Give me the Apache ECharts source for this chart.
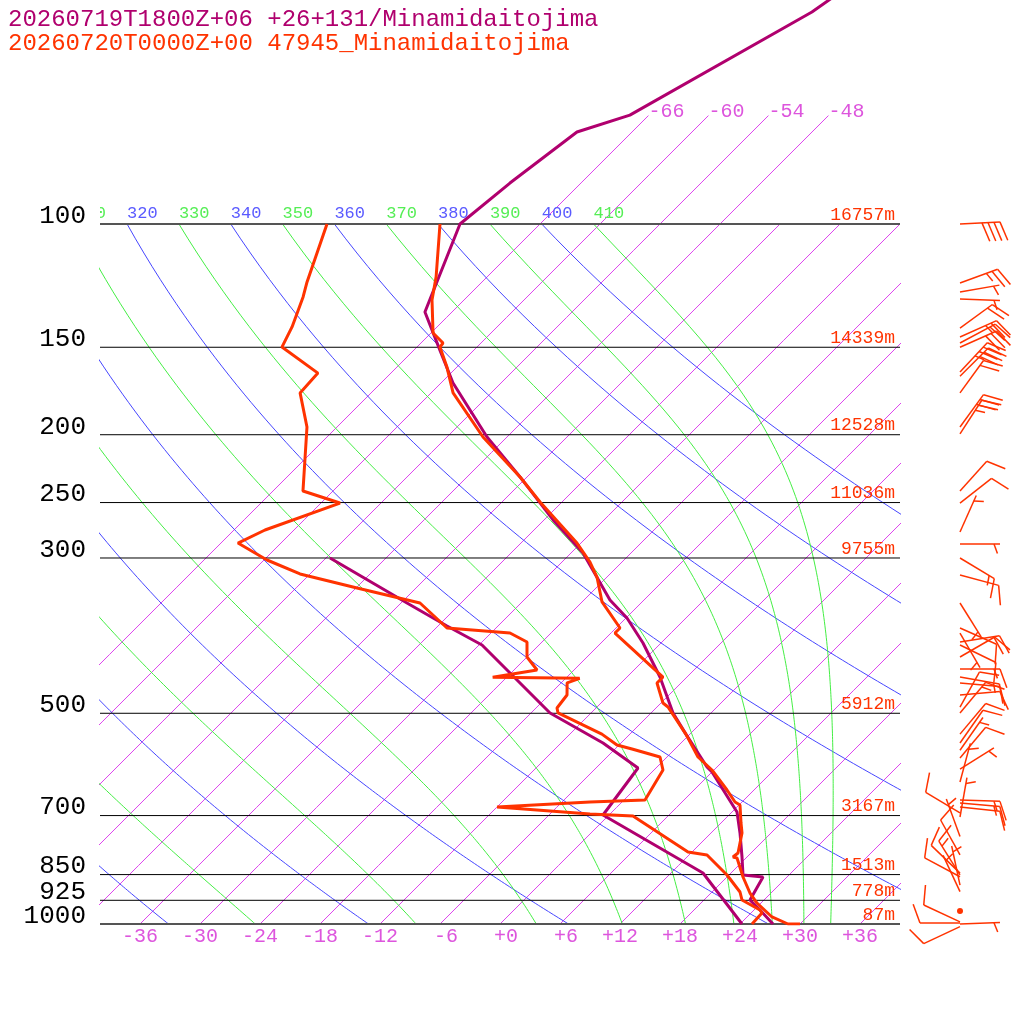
<!DOCTYPE html>
<html><head><meta charset="utf-8">
<script src="https://cdn.jsdelivr.net/npm/echarts@6/dist/echarts.min.js"></script>
<style>html,body{margin:0;padding:0;background:#fff}#c{width:1024px;height:1024px}</style>
</head><body><div id="c"></div>
<script>
// ---------------- data ----------------
const headerModel = '20260719T1800Z+06 +26+131/Minamidaitojima';
const headerObs = '20260720T0000Z+00 47945_Minamidaitojima';

const pressureLevels = [100, 150, 200, 250, 300, 500, 700, 850, 925, 1000];
const pressureLabels = ['100', '150', '200', '250', '300', '500', '700', '850', '925', '1000'];
const heightLabels = ['16757m', '14339m', '12528m', '11036m', '9755m', '5912m', '3167m', '1513m', '778m', '87m'];
const tempTicks = [-36, -30, -24, -18, -12, -6, 0, 6, 12, 18, 24, 30, 36];
const isotherms = [-66, -60, -54, -48, -42, -36, -30, -24, -18, -12, -6, 0, 6, 12, 18, 24, 30, 36];
const isothermsLabelled = [-66, -60, -54, -48];
const dryThetas = [240, 260, 280, 300, 320, 340, 360, 380, 400];
const moistThetas = [250, 270, 290, 310, 330, 350, 370, 390, 410];

// observed sounding [pressure hPa, temperature C]
const obsTemp = [[1000,30.0],[1000,28.8],[977.2,26.5],[933.3,23.6],[903.1,21.9],[856.7,19.6],[804.8,17.1],[802.2,16.6],[791.7,16.7],[741.3,15.1],[717.3,14.0],[676.1,12.1],[669.4,11.3],[643.5,9.3],[602.6,5.8],[577.3,3.1],[535.5,-0.4],[489.8,-4.9],[483.4,-5.8],[452.6,-8.4],[443.8,-8.4],[384.0,-17.6],[377.7,-17.6],[346.7,-22.0],[319.4,-25.0],[304.0,-27.2],[285.6,-30.4],[249.5,-38.2],[229.8,-42.7],[201.5,-50.4],[174.3,-57.8],[160.1,-61.0],[149.9,-63.7],[147.9,-63.8],[143.1,-65.8],[128.4,-69.2],[119.0,-71.1],[100,-76.0]];
const obsDew = [[1000,25.2],[964.5,25.1],[955.0,24.6],[924.1,21.8],[900.1,20.8],[851.1,17.8],[796.9,13.8],[789.1,11.6],[701.0,2.5],[696.4,-2.0],[680.5,-12.0],[669.4,-3.2],[665.0,2.1],[602.6,0.9],[577.3,-0.7],[562.3,-4.3],[555.0,-6.2],[535.5,-8.8],[499.5,-15.3],[491.4,-15.9],[470.8,-16.2],[452.4,-17.4],[445.7,-16.6],[444.2,-25.4],[433.6,-21.7],[415.5,-24.0],[395.5,-25.5],[384.0,-28.1],[377.7,-34.9],[347.9,-40.1],[331.1,-47.9],[316.2,-55.0],[302.0,-59.7],[285.6,-64.3],[273.6,-62.9],[250.4,-58.1],[240.7,-63.0],[195.0,-69.0],[174.3,-73.1],[163.3,-73.3],[149.9,-79.5],[140.3,-80.5],[127.1,-82.4],[121.0,-83.5],[100,-87.3]];
// model profile
const modTemp = [[1000,27.3],[955.0,24.6],[924.1,22.6],[856.7,21.6],[851.1,19.4],[802.2,17.5],[741.3,14.9],[691.8,12.5],[606.5,6.0],[596.6,5.0],[535.5,-0.4],[499.5,-3.8],[443.8,-8.7],[396.8,-13.8],[365.5,-17.9],[344.5,-21.4],[295.1,-28.8],[264.7,-35.1],[229.8,-42.7],[201.5,-50.0],[168.7,-58.8],[151.4,-63.4],[133.6,-68.7],[100,-74.0],[87.4,-73.1],[73.9,-71.5],[69.9,-67.9],[49.8,-60.0],[46.0,-59.0]];
const modDew = [[1000,24.2],[845.6,15.2],[698.7,-0.6],[598.6,-1.8],[551.3,-7.8],[499.5,-16.1],[399.4,-29.7],[375.2,-35.1],[347.9,-41.4],[300,-53.6]];

// observed winds: pressure, direction (deg), speed (kt)
const windP   = [100,121.4,125.1,128.0,140.8,145.0,147.9,150.0,162.7,165.0,174.3,195.0,199.4,240.7,250.4,275.4,286.5,300.0,317.3,347.9,377.7,384.0,395.5,399.4,415.5,432.2,443.8,452.6,470.8,489.8,499.5,535.5,551.3,564.6,579.2,600.7,626.8,665.0,671.6,680.5,694.0,703.3,750,796.9,846,851,856,880,899,958.1,993,996.7,1000,1008.9];
const windDir = [87,70,80,92,54,66,62,66,43,45,36,36,33,42,52,24,90,121,105,148,114,150,81,116,60,90,100,95,85,29,40,40,35,35,40,58,15,92,95,96,301,10,340,331,314,328,298,348,335,0,295,270,88,245];
const windSpd = [40,25,5,5,20,25,20,30,35,30,20,30,25,10,10,5,5,15,10,5,10,5,20,10,10,15,15,10,10,10,15,10,10,5,10,5,5,15,15,10,10,5,5,10,10,15,10,5,5,0,10,10,5,10];

// ---------------- helpers ----------------
const C_PURPLE = '#b0006e', C_RED = '#ff3300', C_TICK = '#dd55dd';
const ISO_COLOR = '#dd44ee';
const C_DRY = '#4646ff', C_MOIST = '#44ee44', C_DRY_T = '#5a5aff', C_MOIST_T = '#55ee55';
const FONT = '"Liberation Mono", "DejaVu Sans Mono", monospace';
const S = 0.1 * 700 / Math.LN10;           // skew: x units per ln(p) unit (45 degrees)
const P_TOP = 1000 / Math.pow(10, 924 / 700);
const KAPPA = 287.04 / 1005.7, RD = 287.04, CP = 1005.7, LV = 2.501e6;
const BARB_X = 46;
function sx(T, p) { return T + S * Math.log(1000 / p); }
function prof(arr) { return arr.map(d => [sx(d[1], d[0]), d[0]]); }

function isoLine(T, top) {
  const out = [];
  const n = 12, l0 = Math.log(1000), l1 = Math.log(top);
  for (let k = 0; k <= n; k++) { const p = Math.exp(l0 + (l1 - l0) * k / n); out.push([sx(T, p), p]); }
  return out;
}
function dryLine(theta) {
  const out = [];
  for (let p = 100; p <= 1000; p += 5) out.push([sx(theta * Math.pow(p / 1000, KAPPA) - 273.15, p), p]);
  return out;
}
function dTdp(p, T) {
  const Tc = T - 273.15;
  const es = 6.112 * Math.exp(17.67 * Tc / (Tc + 243.5));
  const rs = 0.622 * es / (p - es);
  return (RD * T + LV * rs) / (CP + LV * LV * rs * 0.622 / (RD * T * T)) / p;
}
function moistLine(theta) {
  let T = theta * Math.pow(0.1, KAPPA), p = 100;
  const dp = 1, out = [[sx(T - 273.15, p), p]];
  for (let i = 1; i <= 900; i++) {
    const k1 = dTdp(p, T), k2 = dTdp(p + dp / 2, T + k1 * dp / 2), k3 = dTdp(p + dp / 2, T + k2 * dp / 2), k4 = dTdp(p + dp, T + k3 * dp);
    T += dp * (k1 + 2 * k2 + 2 * k3 + k4) / 6; p += dp;
    if (i % 5 === 0) out.push([sx(T - 273.15, p), p]);
  }
  return out;
}
function line(data, color, width, z) {
  return { type: 'line', data, symbol: 'none', showSymbol: false, silent: true, clip: true, z, color: color,
    itemStyle: { color: color }, lineStyle: { color: color, width: width, opacity: 1 },
    emphasis: { disabled: true }, animation: false };
}
function texts(points, strs, o) {
  return {
    type: 'custom', coordinateSystem: 'cartesian2d', silent: true, z: 20, data: points, animation: false,
    renderItem(params, api) {
      const pt = api.coord([api.value(0), api.value(1)]);
      const i = params.dataIndex;
      const el = { type: 'text', style: { x: pt[0] + (o.dx || 0), y: pt[1] + (o.dy || 0), text: strs[i],
        fill: typeof o.color === 'function' ? o.color(i) : o.color, font: o.font, align: o.align, verticalAlign: 'middle' } };
      if (o.clip) { const c = params.coordSys; el.clipPath = { type: 'rect', shape: { x: c.x, y: c.y, width: c.width, height: c.height } }; }
      return el;
    }
  };
}

const series = [];
// isotherms
isotherms.forEach(T => {
  const top = isothermsLabelled.includes(T) ? 70 : 100;
  series.push(line(isoLine(T, top), ISO_COLOR, 1, 2));
});
// dry and moist adiabats
dryThetas.forEach(th => series.push(line(dryLine(th), C_DRY, 1, 2)));
moistThetas.forEach(th => series.push(line(moistLine(th), C_MOIST, 1, 2)));
// isobars
pressureLevels.forEach(p => {
  const edge = (p === 100 || p === 1000);
  series.push(line([[-40, p], [0, p], [40, p]], edge ? '#555555' : '#000000', edge ? 2 : 1, 3));
});
// profiles
series.push(line(prof(modDew), C_PURPLE, 3, 5));
series.push(line(prof(modTemp), C_PURPLE, 3, 5));
series.push(line(prof(obsDew), C_RED, 3, 6));
series.push(line(prof(obsTemp), C_RED, 3, 6));

// labels
series.push(texts(pressureLevels.map(p => [-41.4, p]), pressureLabels, { color: '#000', font: '26px ' + FONT, align: 'right', dy: -8 }));
series.push(texts(pressureLevels.map(p => [39.5, p]), heightLabels, { color: C_RED, font: '18px ' + FONT, align: 'right', dy: -9 }));
series.push(texts(tempTicks.map(t => [t + 1.8, 1000]), tempTicks.map(t => (t >= 0 ? '+' : '') + t), { color: C_TICK, font: '20px ' + FONT, align: 'right', dy: 13 }));
series.push(texts(isothermsLabelled.map(t => [sx(t, 70), 70]), isothermsLabelled.map(String), { color: C_TICK, font: '20px ' + FONT, align: 'left', dy: -4 }));
const thetaAll = [], thetaStr = [], thetaCol = [];
moistThetas.concat(dryThetas).sort((a, b) => a - b).forEach(th => {
  thetaAll.push([sx(th * Math.pow(0.1, KAPPA) - 273.15, 100), 100]);
  thetaStr.push(String(th));
  thetaCol.push(dryThetas.includes(th) ? C_DRY_T : C_MOIST_T);
});
series.push(texts(thetaAll, thetaStr, { color: i => thetaCol[i], font: '17px ' + FONT, align: 'left', dy: -11, clip: true }));

// wind barbs
series.push({
  type: 'custom', coordinateSystem: 'cartesian2d', silent: true, z: 8, animation: false,
  data: windP.map(p => [BARB_X, p]),
  renderItem(params, api) {
    const i = params.dataIndex;
    const b = api.coord([api.value(0), api.value(1)]);
    const st = { stroke: C_RED, lineWidth: 1.5, fill: null };
    if (windSpd[i] === 0) return { type: 'circle', shape: { cx: b[0], cy: b[1], r: 3 }, style: { fill: C_RED } };
    const r = windDir[i] * Math.PI / 180, ux = Math.sin(r), uy = -Math.cos(r), L = 40;
    const tx = b[0] + L * ux, ty = b[1] + L * uy;
    const a = 70 * Math.PI / 180, vx = ux * Math.cos(a) - uy * Math.sin(a), vy = ux * Math.sin(a) + uy * Math.cos(a);
    const ch = [{ type: 'line', shape: { x1: b[0], y1: b[1], x2: tx, y2: ty }, style: st }];
    let s = Math.round(windSpd[i] / 5) * 5, pos = 0;
    while (s >= 10) {
      const x0 = tx - pos * ux, y0 = ty - pos * uy;
      ch.push({ type: 'line', shape: { x1: x0, y1: y0, x2: x0 + 20 * vx, y2: y0 + 20 * vy }, style: st });
      pos += 6; s -= 10;
    }
    if (s >= 5) {
      if (pos === 0) pos = 6;
      const x0 = tx - pos * ux, y0 = ty - pos * uy;
      ch.push({ type: 'line', shape: { x1: x0, y1: y0, x2: x0 + 10 * vx, y2: y0 + 10 * vy }, style: st });
    }
    return { type: 'group', children: ch };
  }
});

const chart = echarts.init(document.getElementById('c'));
chart.setOption({
  animation: false,
  backgroundColor: '#fff',
  title: [
    { text: headerModel, left: 3, top: 3, textStyle: { color: C_PURPLE, fontSize: 24, fontWeight: 'normal', fontFamily: FONT } },
    { text: headerObs, left: 3, top: 27, textStyle: { color: C_RED, fontSize: 24, fontWeight: 'normal', fontFamily: FONT } }
  ],
  grid: { left: 100, right: 124, top: 0, bottom: 100, containLabel: false },
  xAxis: { type: 'value', min: -40, max: 40, show: false },
  yAxis: { type: 'log', logBase: 10, min: P_TOP, max: 1000, inverse: true, show: false },
  series
});
</script></body></html>
